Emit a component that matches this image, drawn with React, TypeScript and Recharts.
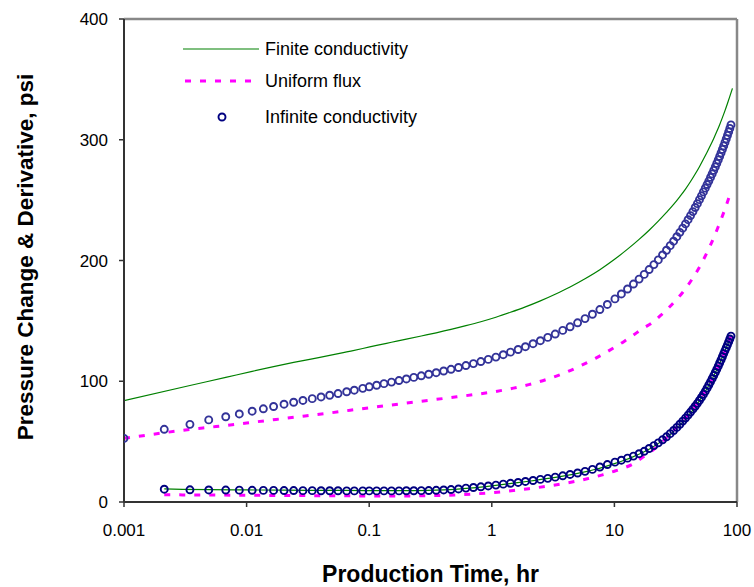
import React from 'react';
import {
  ComposedChart,
  Line,
  Scatter,
  XAxis,
  YAxis,
  ReferenceLine,
  Legend,
} from 'recharts';

const FONT = '"Liberation Sans", Arial, sans-serif';
const GREEN = '#008000';
const MAGENTA = '#FF00FF';
const BLUE_UPPER = '#333399';
const NAVY = '#000080';

// production time, hr (sample times of the infinite-conductivity points)
const time = [
  0.001, 0.00213, 0.00345, 0.00491, 0.00676, 0.00872, 0.0111, 0.0137, 0.0166, 0.0202,
  0.0242, 0.0288, 0.0343, 0.0405, 0.0476, 0.0557, 0.0655, 0.0756, 0.0886, 0.1,
  0.115, 0.132, 0.152, 0.175, 0.201, 0.231, 0.266, 0.306, 0.352, 0.405,
  0.465, 0.535, 0.615, 0.708, 0.814, 0.936, 1.08, 1.24, 1.42, 1.64,
  1.88, 2.17, 2.49, 2.86, 3.29, 3.79, 4.35, 5.01, 5.76, 6.62,
  7.61, 8.76, 10.1, 11.4, 12.8, 14.3, 15.9, 17.5, 19.2, 21.0,
  22.8, 24.7, 26.6, 28.5, 30.4, 32.3, 34.2, 36.1, 38.0, 39.9,
  41.8, 43.7, 45.6, 47.5, 49.4, 51.3, 53.2, 55.1, 57.0, 58.9,
  60.8, 62.7, 64.6, 66.5, 68.4, 70.3, 72.2, 74.1, 76.0, 77.9,
  79.8, 81.7, 83.6, 85.5, 87.4, 89.3,
];

// infinite conductivity: pressure change, psi
const infinitePressure = [
  52.7, 60.2, 64.3, 68.0, 70.6, 72.9, 75.2, 77.2, 79.1, 81.0,
  82.6, 84.1, 85.6, 87.0, 88.4, 89.8, 91.3, 92.6, 94.1, 95.4,
  96.7, 98.0, 99.3, 100.6, 101.9, 103.2, 104.5, 105.8, 107.1, 108.5,
  109.9, 111.4, 113.0, 114.6, 116.3, 118.1, 120.0, 122.0, 124.1, 126.3,
  128.6, 131.1, 133.6, 136.3, 139.1, 142.1, 145.1, 148.4, 151.9, 155.5,
  159.4, 163.6, 168.2, 172.3, 176.4, 180.5, 184.6, 188.5, 192.5, 196.6,
  200.5, 204.6, 208.5, 212.3, 216.0, 219.7, 223.3, 226.8, 230.3, 233.8,
  237.2, 240.5, 243.9, 247.1, 250.4, 253.6, 256.8, 259.9, 262.9, 265.8,
  268.8, 271.7, 274.6, 277.5, 280.4, 283.3, 286.2, 289.1, 292.0, 294.9,
  297.8, 300.7, 303.6, 306.5, 309.4, 312.3,
];

// infinite conductivity: derivative, psi (starts at the second sample time)
const infiniteDerivative = [
  10.6, 10.1, 10.0, 9.9, 9.8, 9.7, 9.6, 9.6, 9.5,
  9.5, 9.4, 9.4, 9.3, 9.3, 9.3, 9.2, 9.2, 9.2, 9.2,
  9.2, 9.2, 9.2, 9.2, 9.3, 9.3, 9.4, 9.5, 9.7, 10.0,
  10.3, 10.8, 11.5, 12.0, 12.6, 13.3, 14.0, 14.8, 15.5, 16.2,
  17.0, 17.8, 18.7, 19.6, 20.6, 21.7, 22.8, 24.0, 25.4, 27.0,
  29.0, 31.0, 33.0, 34.6, 36.3, 38.0, 40.0, 42.0, 44.3, 46.7,
  49.0, 51.5, 54.0, 56.6, 59.2, 61.8, 64.4, 67.0, 69.5, 72.0,
  74.5, 76.9, 79.3, 81.7, 84.1, 86.6, 89.1, 91.7, 94.3, 96.9,
  99.5, 102.1, 104.7, 107.3, 109.9, 112.5, 115.1, 117.7, 120.3, 122.9,
  125.4, 127.8, 130.2, 132.6, 135.0, 137.4,
];

// finite conductivity: pressure change
const finiteTime = [
  0.001, 0.00345, 0.00676, 0.0111, 0.0166, 0.0242, 0.0343, 0.0476, 0.0655, 0.0886,
  0.115, 0.152, 0.201, 0.266, 0.352, 0.465, 0.615, 0.814, 1.08, 1.42,
  1.88, 2.49, 3.29, 4.35, 5.76, 7.61, 10.1, 12.8, 15.9, 19.2,
  22.8, 26.6, 30.4, 34.2, 38.0, 41.8, 45.6, 49.4, 53.2, 57.0,
  60.8, 64.6, 68.4, 72.2, 76.0, 79.8, 83.6, 87.4, 91.8,
];
const finitePressure = [
  84.0, 96.5, 103.2, 108.2, 112.1, 115.6, 118.6, 121.4, 124.3, 127.1,
  129.7, 132.3, 134.9, 137.5, 140.1, 142.9, 146.0, 149.3, 153.0, 157.1,
  161.6, 166.6, 172.1, 178.1, 184.9, 192.4, 201.2, 209.4, 217.5, 225.1,
  232.6, 239.8, 246.4, 252.9, 259.1, 265.4, 271.6, 277.7, 283.8, 289.7,
  295.4, 301.1, 306.8, 312.5, 318.3, 324.1, 330.0, 335.9, 342.6,
];

// finite conductivity: derivative
const finiteDerivTime = [
  0.00213, 0.003, 0.005, 0.01, 0.02, 0.05, 0.1, 0.2, 0.3, 0.5,
  0.7, 1, 1.5, 2, 3, 4, 5, 6, 7, 8,
  10, 12, 14, 17, 20, 24, 28, 32, 36, 40,
  45, 50, 55, 60, 65, 70, 75, 80, 85, 89.3,
];
const finiteDerivative = [
  10.8, 10.4, 10.2, 10.0, 9.8, 9.6, 9.5, 9.5, 9.7, 10.5,
  11.7, 13.4, 15.6, 17.2, 19.7, 21.8, 23.7, 25.4, 27.1, 28.7,
  31.8, 34.6, 37.2, 41.0, 44.8, 50.0, 55.2, 60.6, 66.0, 71.3,
  78.0, 84.8, 91.4, 98.2, 105.0, 111.8, 118.6, 125.4, 131.8, 137.4,
];

// uniform flux: pressure change
const fluxTime = [
  0.001, 0.0015, 0.002, 0.003, 0.005, 0.007, 0.01, 0.015, 0.02, 0.03,
  0.05, 0.07, 0.1, 0.15, 0.2, 0.3, 0.5, 0.7, 1, 1.5,
  2, 3, 4, 5, 6, 7, 8, 10, 12, 14,
  17, 20, 24, 28, 32, 36, 40, 45, 50, 55,
  60, 65, 70, 75, 80, 85, 89.3,
];
const fluxPressure = [
  52.7, 55.2, 57.0, 59.4, 61.9, 63.5, 65.4, 67.6, 69.1, 71.3,
  74.0, 76.0, 78.0, 80.3, 81.9, 84.1, 86.9, 88.8, 91.0, 94.3,
  97.2, 102.5, 107.2, 111.6, 115.5, 119.0, 122.2, 128.0, 133.0, 137.6,
  143.6, 148.0, 154.8, 161.3, 167.5, 173.5, 179.8, 187.6, 195.5, 203.5,
  211.5, 219.5, 227.5, 235.3, 243.0, 250.7, 257.5,
];

// uniform flux: derivative
const fluxDerivTime = [
  0.00213, 0.003, 0.005, 0.01, 0.02, 0.05, 0.1, 0.2, 0.3, 0.5,
  0.7, 1, 1.5, 2, 3, 4, 5, 6, 7, 8,
  10, 12, 14, 17, 20, 24, 28, 32, 36, 40,
  45, 50, 55, 60, 65, 70, 75, 80, 85, 89.3,
];
const fluxDerivative = [
  6.0, 5.9, 5.8, 5.6, 5.4, 5.2, 5.0, 5.0, 5.2, 5.8,
  6.6, 7.7, 9.5, 11.0, 13.5, 15.6, 17.4, 19.2, 20.9, 22.5,
  25.5, 28.3, 31.2, 37.0, 42.0, 48.8, 55.5, 61.5, 67.0, 72.0,
  78.5, 85.0, 91.6, 98.2, 105.0, 111.8, 118.6, 125.4, 131.8, 137.4,
];

const xTicks = [0.001, 0.01, 0.1, 1, 10, 100];
const yTicks = [0, 100, 200, 300, 400];

const toPoints = (xs: number[], ys: number[]) => xs.map((t, i) => ({ t, v: ys[i] }));

const infPressurePts = toPoints(time, infinitePressure);
const infDerivPts = toPoints(time.slice(1), infiniteDerivative);
const finPressurePts = toPoints(finiteTime, finitePressure);
const finDerivPts = toPoints(finiteDerivTime, finiteDerivative);
const fluxPressurePts = toPoints(fluxTime, fluxPressure);
const fluxDerivPts = toPoints(fluxDerivTime, fluxDerivative);

const ring = (color: string) => (props: any) => (
  <circle cx={props.cx} cy={props.cy} r={3.5} fill="none" stroke={color} strokeWidth={1.9} />
);

const renderLegend = () => (
  <svg width={260} height={100} style={{ display: 'block' }}>
    <line x1={8} y1={14} x2={84} y2={14} stroke={GREEN} strokeWidth={1.2} />
    <text x={90} y={14} dominantBaseline="central" fontSize={18} fontFamily={FONT}>
      Finite conductivity
    </text>
    <line x1={10} y1={46} x2={80} y2={46} stroke={MAGENTA} strokeWidth={3} strokeDasharray="6 9" />
    <text x={90} y={46} dominantBaseline="central" fontSize={18} fontFamily={FONT}>
      Uniform flux
    </text>
    <circle cx={47} cy={82} r={3.5} fill="none" stroke={NAVY} strokeWidth={1.9} />
    <text x={90} y={82} dominantBaseline="central" fontSize={18} fontFamily={FONT}>
      Infinite conductivity
    </text>
  </svg>
);

const xTitle = () => (
  <text x={430.5} y={582} textAnchor="middle" fontSize={23} fontWeight="bold" fontFamily={FONT}>
    Production Time, hr
  </text>
);

const yTitle = () => (
  <text
    x={25}
    y={257}
    textAnchor="middle"
    dominantBaseline="central"
    fontSize={22.5}
    fontWeight="bold"
    fontFamily={FONT}
    transform="rotate(-90, 25, 257)"
  >
    Pressure Change &amp; Derivative, psi
  </text>
);

export default function App() {
  const tickStyle = { fontSize: 17, fill: '#000', fontFamily: FONT };
  return (
    <div style={{ position: 'absolute', left: 0, top: 0, background: '#fff' }}>
      <ComposedChart width={754} height={587} margin={{ top: 19, right: 17, left: 0, bottom: 0 }}>
        <XAxis
          dataKey="t"
          type="number"
          scale="log"
          domain={[0.001, 100]}
          allowDataOverflow
          ticks={xTicks}
          tick={tickStyle}
          tickSize={5}
          tickMargin={17}
          height={85}
          axisLine={{ stroke: '#333', strokeWidth: 2 }}
          tickLine={{ stroke: '#333', strokeWidth: 1.5 }}
          label={{ content: xTitle }}
        />
        <YAxis
          dataKey="v"
          type="number"
          domain={[0, 400]}
          ticks={yTicks}
          tick={tickStyle}
          tickSize={5}
          tickMargin={11}
          width={124}
          axisLine={{ stroke: '#333', strokeWidth: 2 }}
          tickLine={{ stroke: '#333', strokeWidth: 1.5 }}
          label={{ content: yTitle }}
        />
        <ReferenceLine y={400} stroke="#888" strokeWidth={2.5} />
        <ReferenceLine x={100} stroke="#888" strokeWidth={2.5} />
        <Legend
          layout="vertical"
          align="center"
          verticalAlign="middle"
          content={renderLegend}
          wrapperStyle={{ left: 175, top: 35, width: 260, height: 100 }}
        />

        <Line data={finPressurePts} dataKey="v" type="monotone" stroke={GREEN} strokeWidth={1.2} dot={false} isAnimationActive={false} name="Finite conductivity" />
        <Line data={finDerivPts} dataKey="v" type="monotone" stroke={GREEN} strokeWidth={1.2} dot={false} isAnimationActive={false} legendType="none" />
        <Line data={fluxPressurePts} dataKey="v" type="monotone" stroke={MAGENTA} strokeWidth={3} strokeDasharray="6 9" dot={false} isAnimationActive={false} name="Uniform flux" />
        <Line data={fluxDerivPts} dataKey="v" type="monotone" stroke={MAGENTA} strokeWidth={3} strokeDasharray="6 9" dot={false} isAnimationActive={false} legendType="none" />
        <Scatter data={infPressurePts} dataKey="v" shape={ring(BLUE_UPPER)} isAnimationActive={false} name="Infinite conductivity" />
        <Scatter data={infDerivPts} dataKey="v" shape={ring(NAVY)} isAnimationActive={false} legendType="none" />
      </ComposedChart>
    </div>
  );
}
